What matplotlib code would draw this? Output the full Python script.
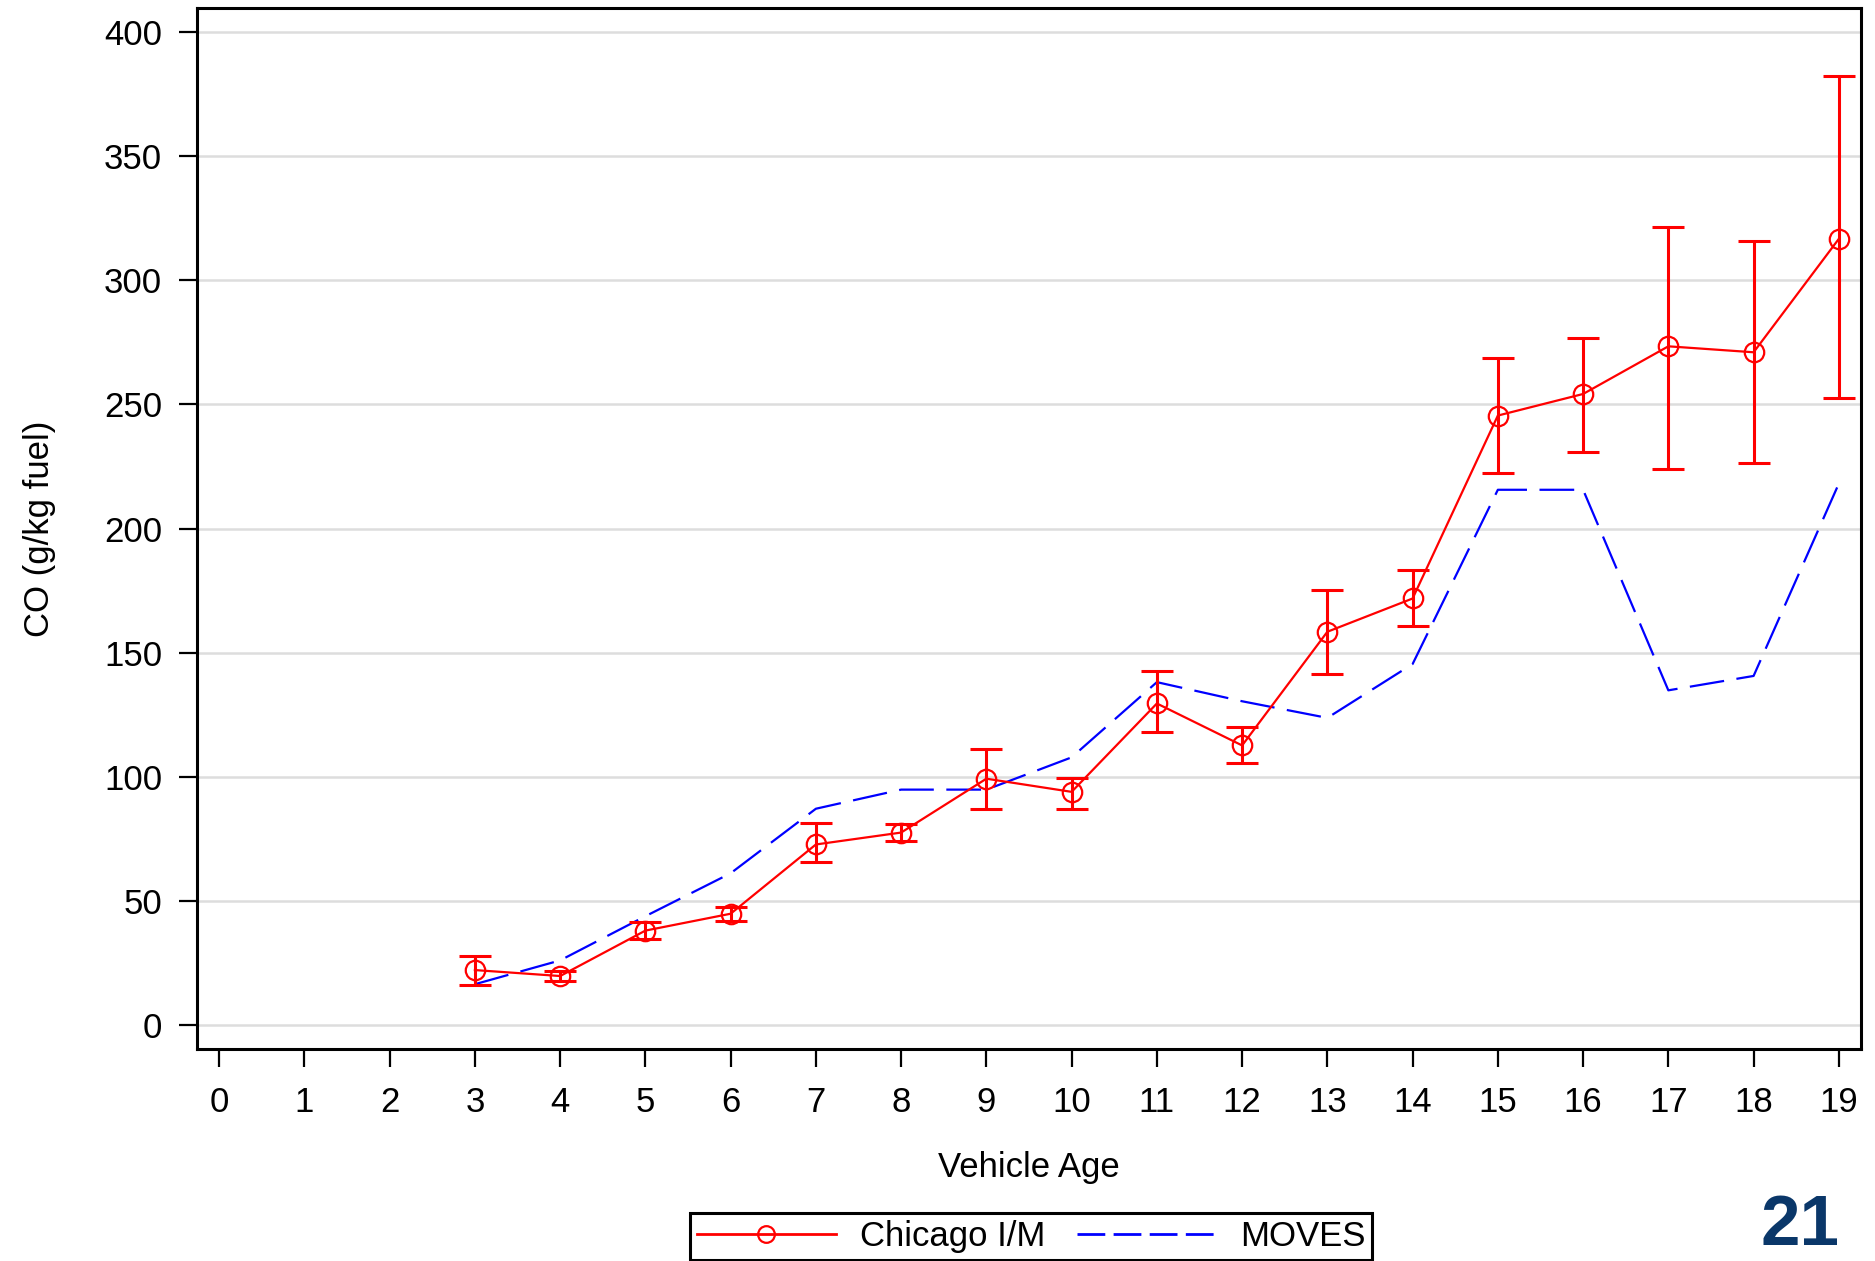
import numpy as np
import matplotlib
matplotlib.use("Agg")
import matplotlib.pyplot as plt
from matplotlib.lines import Line2D

plt.rcParams['font.family'] = ['Liberation Sans', 'DejaVu Sans']
plt.rcParams['lines.scale_dashes'] = False

# vehicle age
age = [3, 4, 5, 6, 7, 8, 9, 10, 11, 12, 13, 14, 15, 16, 17, 18, 19]

# Chicago I/M mean CO and error bar limits
chicago = [22.1, 19.7, 38.0, 44.8, 72.7, 77.5, 99.2, 93.9, 129.5, 112.6,
           158.4, 171.8, 245.5, 254.2, 273.4, 271.0, 316.7]
chicago_hi = [27.9, 21.7, 41.5, 47.5, 81.3, 81.0, 111.2, 99.6, 142.5, 119.9,
              175.2, 183.4, 268.6, 276.8, 321.5, 315.8, 382.2]
chicago_lo = [15.9, 17.7, 34.7, 42.0, 65.5, 74.0, 87.1, 87.1, 117.9, 105.4,
              141.5, 160.8, 222.4, 231.0, 223.8, 226.2, 252.7]

# MOVES model
moves = [16.4, 26.0, 43.8, 61.1, 87.1, 94.8, 94.8, 107.8, 138.1, 130.4,
         123.7, 145.4, 215.6, 215.6, 134.8, 140.6, 218.1]

x_ticks = list(range(0, 20))
y_ticks = [0, 50, 100, 150, 200, 250, 300, 350, 400]

fig = plt.figure(figsize=(18.75, 12.61), dpi=100)
ax = fig.add_axes([197/1875, 1 - 1049/1261, (1861 - 197)/1875, (1049 - 8)/1261])

ch = np.array(chicago)
yerr = [ch - np.array(chicago_lo), np.array(chicago_hi) - ch]

ax.plot(age, moves, color='#0000ff', lw=1.6, dashes=(25, 9), zorder=3)
ax.errorbar(age, chicago, yerr=yerr, fmt='none', ecolor='#ff0000',
            elinewidth=2.2, capsize=11.5, capthick=2.2, zorder=4)
ax.plot(age, chicago, color='#ff0000', lw=1.6, marker='o', ms=14,
        mfc='none', mec='#ff0000', mew=1.6, zorder=5)

ax.set_xlim(-0.26, 19.26)
ax.set_ylim(-9.7, 409.7)
ax.set_xticks(x_ticks)
ax.set_yticks(y_ticks)
ax.tick_params(labelsize=25, length=13, width=1.6, pad=12, direction='out')
ax.tick_params(axis='x', pad=14)
ax.grid(axis='y', color='#dddddd', lw=1.8)
ax.set_axisbelow(True)
for s in ax.spines.values():
    s.set_linewidth(2.2)

ax.set_xlabel('Vehicle Age', fontsize=25)
ax.set_ylabel('CO (g/kg fuel)', fontsize=25)
ax.xaxis.set_label_coords(0.5, -0.098)
ax.yaxis.set_label_coords(-0.085, 0.5)

handles = [
    Line2D([], [], color='#ff0000', lw=2, marker='o', ms=12, mfc='none',
           mec='#ff0000', mew=1.6),
    Line2D([], [], color='#0000ff', lw=2, dashes=(20, 6)),
]
leg = fig.legend(handles, ['Chicago I/M', 'MOVES'], ncol=2,
                 loc='upper center', bbox_to_anchor=(1031/1875, 1 - 1213/1261),
                 borderaxespad=0, fontsize=25, frameon=True, fancybox=False,
                 edgecolor='black', framealpha=1, handlelength=4.0,
                 handletextpad=0.7, columnspacing=0.9, borderpad=0.2)
leg.get_frame().set_linewidth(2.2)

fig.text(0.96, 0.001, '21', fontsize=51, fontweight='bold', color='#0a3769',
         ha='center', va='bottom')

fig.savefig('out.png', dpi=100)
